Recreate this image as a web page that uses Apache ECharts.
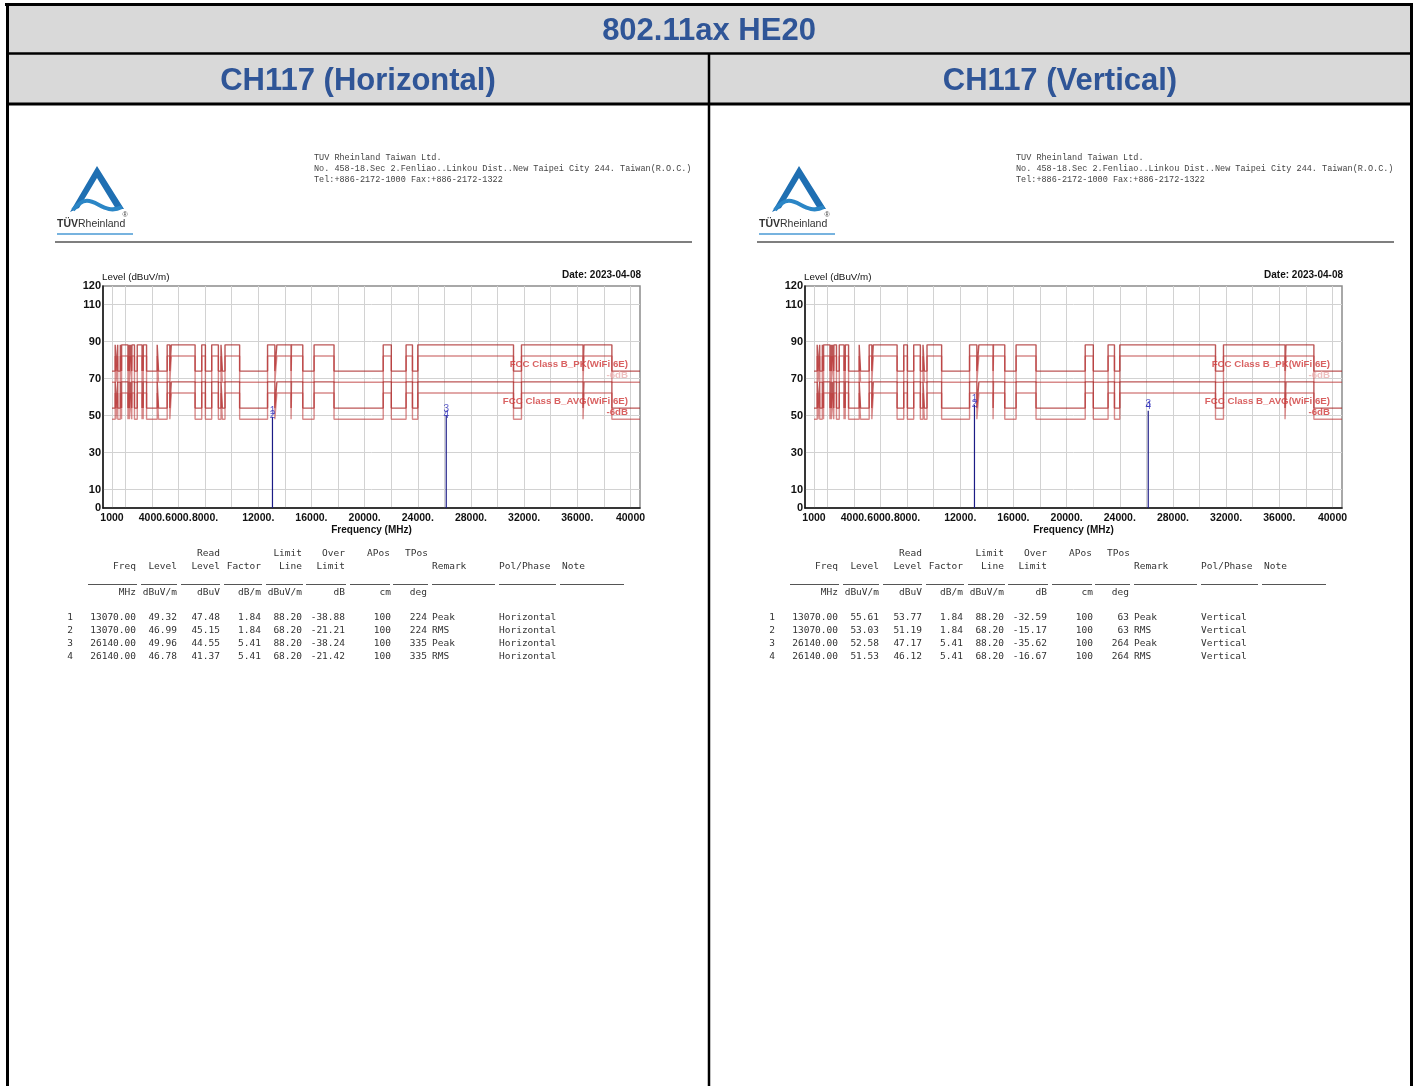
<!DOCTYPE html>
<html lang="en">
<head>
<meta charset="UTF-8">
<title>802.11ax HE20 CH117</title>
<style>
    html, body { margin: 0; padding: 0; background: #fff; }
    #main { width: 1418px; height: 1086px; }
</style>
</head>
<body>
<div id="main"></div>
<script src="https://cdn.jsdelivr.net/npm/echarts@6/dist/echarts.min.js"></script>
<script type="text/javascript">
    // restricted bands (MHz), the limits drop inside them
    var restricted = [
        [960, 1240], [1300, 1427], [1435, 1626.5], [1645.5, 1646.5], [1660, 1710],
        [1718.8, 1722.2], [2200, 2300], [2310, 2390], [2483.5, 2500], [2690, 2900],
        [3260, 3267], [3332, 3339], [3345.8, 3358], [3600, 4400], [4500, 5150],
        [5350, 5460], [7250, 7750], [8025, 8500], [9000, 9200], [9300, 9500],
        [10600, 12700], [13250, 13400], [14470, 14500], [15350, 16200], [17700, 21400],
        [22010, 23120], [23600, 24000], [31200, 31800], [36430, 36500], [38600, 41000]
    ];
    // [in restricted band, outside]
    var pkLimit = [74, 88.2];
    var pkLimit6 = [68, 82.2];
    var avgLimit = [54, 68.2];
    var avgLimit6 = [48, 62.2];
    var limitNames = ['FCC Class B_PK(WiFi 6E)', '-6dB', 'FCC Class B_AVG(WiFi 6E)', '-6dB'];

    var freqStart = 1000;
    var xMin = 323, xMax = 40715;
    var xGridVals = [1000, 2000, 4000, 6000, 8000, 10000, 12000, 14000, 16000, 18000, 20000, 22000,
        24000, 26000, 28000, 30000, 32000, 34000, 36000, 38000, 40000];
    var xLabelVals = [1000, 4000, 6000, 8000, 12000, 16000, 20000, 24000, 28000, 32000, 36000, 40000];
    var yLabelVals = [0, 10, 30, 50, 70, 90, 110, 120];
    var yGridVals = [10, 30, 50, 70, 90, 110];

    // marker table
    var mkNo = ['1', '2', '3', '4'];
    var mkFreq = [13070, 13070, 26140, 26140];
    var factor = [1.84, 1.84, 5.41, 5.41];
    var limitLine = [88.20, 68.20, 88.20, 68.20];
    var aPos = [100, 100, 100, 100];
    var remark = ['Peak', 'RMS', 'Peak', 'RMS'];

    var hLevel = [49.32, 46.99, 49.96, 46.78];
    var hRead = [47.48, 45.15, 44.55, 41.37];
    var hOver = [-38.88, -21.21, -38.24, -21.42];
    var hTPos = [224, 224, 335, 335];

    var vLevel = [55.61, 53.03, 52.58, 51.53];
    var vRead = [53.77, 51.19, 47.17, 46.12];
    var vOver = [-32.59, -15.17, -35.62, -16.67];
    var vTPos = [63, 63, 264, 264];

    var SANS = '"Liberation Sans", Arial, sans-serif';
    var MONO = '"DejaVu Sans Mono", monospace';
    var BLUE = '#2f5597';

    function stepLine(lv) {
        var pts = [[freqStart, lv[0]]];
        restricted.forEach(function (b) {
            if (b[0] > freqStart) { pts.push([b[0], lv[1]], [b[0], lv[0]]); }
            if (b[1] < xMax) { pts.push([b[1], lv[0]], [b[1], lv[1]]); }
        });
        pts.push([xMax, lv[0]]);
        return pts;
    }

    function txt(x, y, s, font, fill, align, valign) {
        return {
            type: 'text', x: x, y: y, silent: true,
            style: {
                text: s, font: font, fill: fill,
                align: align || 'left', textAlign: align || 'left',
                verticalAlign: valign || 'middle', textVerticalAlign: valign || 'middle'
            }
        };
    }
    function hline(x1, x2, y, color, w) {
        return { type: 'line', silent: true, shape: { x1: x1, y1: y, x2: x2, y2: y }, style: { stroke: color, lineWidth: w } };
    }
    function vline(x, y1, y2, color, w) {
        return { type: 'line', silent: true, shape: { x1: x, y1: y1, x2: x, y2: y2 }, style: { stroke: color, lineWidth: w } };
    }

    var grids = [], xAxes = [], yAxes = [], series = [], graphics = [];

    // table frame
    graphics.push({ type: 'rect', silent: true, shape: { x: 8, y: 6, width: 1402, height: 97 }, style: { fill: '#d9d9d9' } });
    graphics.push(hline(5, 1413, 4.5, '#000', 3));
    graphics.push(vline(7.5, 3, 1090, '#000', 3));
    graphics.push(vline(1411.5, 3, 1090, '#000', 3));
    graphics.push(hline(6, 1412, 53.5, '#000', 2.5));
    graphics.push(hline(6, 1412, 104, '#000', 3));
    graphics.push(vline(709, 53, 1090, '#000', 2.5));
    graphics.push(txt(709, 31, '802.11ax HE20', 'bold 31px ' + SANS, BLUE, 'center'));
    graphics.push(txt(358, 81, 'CH117 (Horizontal)', 'bold 31px ' + SANS, BLUE, 'center'));
    graphics.push(txt(1060, 81, 'CH117 (Vertical)', 'bold 31px ' + SANS, BLUE, 'center'));

    function panel(idx, off, level, read, over, tpos, pol) {
        // report header
        graphics.push({
            type: 'polygon', silent: true,
            shape: { points: [[70 + off, 212], [97 + off, 166], [124 + off, 209], [116 + off, 209], [97 + off, 178], [79 + off, 208]] },
            style: { fill: '#1f6fb2' }
        });
        graphics.push({
            type: 'bezierCurve', silent: true,
            shape: { x1: 73 + off, y1: 210, cpx1: 92 + off, cpy1: 186, cpx2: 100 + off, cpy2: 218, x2: 122 + off, y2: 207 },
            style: { stroke: '#2b86c6', lineWidth: 4, fill: null }
        });
        graphics.push({
            type: 'text', x: 57 + off, y: 224, silent: true,
            style: {
                text: '{b|TÜV}{r|Rheinland}', align: 'left', textAlign: 'left',
                verticalAlign: 'middle', textVerticalAlign: 'middle',
                rich: {
                    b: { font: 'bold 10.5px ' + SANS, fill: '#333', color: '#333' },
                    r: { font: '10.5px ' + SANS, fill: '#333', color: '#333' }
                }
            }
        });
        graphics.push(txt(125 + off, 215, '®', '7px ' + SANS, '#444', 'center'));
        graphics.push(hline(57 + off, 133 + off, 234, '#4a9ad4', 1.5));
        var fc = '8.5px "Liberation Mono", monospace';
        graphics.push(txt(314 + off, 158, 'TUV Rheinland Taiwan Ltd.', fc, '#444'));
        graphics.push(txt(314 + off, 169, 'No. 458-18.Sec 2.Fenliao..Linkou Dist..New Taipei City 244. Taiwan(R.O.C.)', fc, '#444'));
        graphics.push(txt(314 + off, 180, 'Tel:+886-2172-1000 Fax:+886-2172-1322', fc, '#444'));
        graphics.push(hline(55 + off, 692 + off, 242, '#555', 1.5));

        graphics.push(txt(102 + off, 277, 'Level (dBuV/m)', '9.8px ' + SANS, '#111'));
        graphics.push(txt(641 + off, 275, 'Date: 2023-04-08', 'bold 10px ' + SANS, '#111', 'right'));

        // marker table
        var f9 = '9.5px ' + MONO, tc = '#333';
        var rx = [136, 177, 220, 261, 302, 345, 391, 427];
        graphics.push(txt(220 + off, 554, 'Read', f9, tc, 'right'));
        graphics.push(txt(302 + off, 554, 'Limit', f9, tc, 'right'));
        graphics.push(txt(345 + off, 554, 'Over', f9, tc, 'right'));
        graphics.push(txt(390 + off, 554, 'APos', f9, tc, 'right'));
        graphics.push(txt(428 + off, 554, 'TPos', f9, tc, 'right'));
        ['Freq', 'Level', 'Level', 'Factor', 'Line', 'Limit'].forEach(function (h, k) {
            graphics.push(txt(rx[k] + off, 567, h, f9, tc, 'right'));
        });
        graphics.push(txt(432 + off, 567, 'Remark', f9, tc));
        graphics.push(txt(499 + off, 567, 'Pol/Phase', f9, tc));
        graphics.push(txt(562 + off, 567, 'Note', f9, tc));
        [[88, 137], [141, 177], [181, 220], [224, 262], [266, 303], [306, 346], [350, 390],
            [393, 428], [432, 495], [499, 556], [560, 624]].forEach(function (s) {
            graphics.push(hline(s[0] + off, s[1] + off, 584.5, '#555', 1));
        });
        ['MHz', 'dBuV/m', 'dBuV', 'dB/m', 'dBuV/m', 'dB', 'cm', 'deg'].forEach(function (u, k) {
            graphics.push(txt(rx[k] + off, 593, u, f9, tc, 'right'));
        });
        for (var i = 0; i < mkNo.length; i++) {
            var y = 618 + i * 13;
            var cells = [mkFreq[i].toFixed(2), level[i].toFixed(2), read[i].toFixed(2), factor[i].toFixed(2),
                limitLine[i].toFixed(2), over[i].toFixed(2), String(aPos[i]), String(tpos[i])];
            graphics.push(txt(70 + off, y, mkNo[i], f9, tc, 'center'));
            cells.forEach(function (c, k) { graphics.push(txt(rx[k] + off, y, c, f9, tc, 'right')); });
            graphics.push(txt(432 + off, y, remark[i], f9, tc));
            graphics.push(txt(499 + off, y, pol, f9, tc));
        }

        // chart
        grids.push({
            left: 103 + off, top: 286, width: 537, height: 222,
            show: true, borderColor: '#8c8c8c', borderWidth: 1.5, backgroundColor: '#fff'
        });
        xAxes.push({
            gridIndex: idx, type: 'value', min: xMin, max: xMax,
            axisLine: { show: true, onZero: false, lineStyle: { color: '#111', width: 1.5 } },
            axisTick: { show: false, customValues: xGridVals },
            splitLine: { show: true, lineStyle: { color: '#d2d2d2', width: 1 } },
            axisLabel: {
                customValues: xLabelVals, margin: 5, color: '#111',
                fontFamily: SANS, fontWeight: 'bold', fontSize: 10.5,
                formatter: function (v) { return (v === 1000 || v === 40000) ? String(v) : v + '.'; }
            },
            name: 'Frequency (MHz)', nameLocation: 'middle', nameGap: 16,
            nameTextStyle: { color: '#111', fontFamily: SANS, fontWeight: 'bold', fontSize: 10 }
        });
        yAxes.push({
            gridIndex: idx, type: 'value', min: 0, max: 120,
            axisLine: { show: true, onZero: false, lineStyle: { color: '#111', width: 1.5 } },
            axisTick: { show: false, customValues: yGridVals },
            splitLine: { show: true, lineStyle: { color: '#d2d2d2', width: 1 } },
            axisLabel: {
                customValues: yLabelVals, margin: 2, color: '#111',
                fontFamily: SANS, fontWeight: 'bold', fontSize: 11
            }
        });

        var lims = [pkLimit, pkLimit6, avgLimit, avgLimit6];
        var limColors = ['rgba(165,30,30,0.75)', 'rgba(190,60,60,0.6)', 'rgba(165,30,30,0.75)', 'rgba(190,60,60,0.6)'];
        lims.forEach(function (lv, k) {
            series.push({
                type: 'line', xAxisIndex: idx, yAxisIndex: idx, data: stepLine(lv),
                showSymbol: false, silent: true, z: 3,
                lineStyle: { color: limColors[k], width: 1.4 }
            });
        });
        var labColors = ['#d03a3a', '#eab0b0', '#d03a3a', '#d03a3a'];
        series.push({
            type: 'scatter', xAxisIndex: idx, yAxisIndex: idx, symbolSize: 0, silent: true, z: 4,
            data: lims.map(function (lv, k) {
                return { name: limitNames[k], value: [xMax, lv[0]], label: { color: labColors[k] } };
            }),
            label: {
                show: true, position: 'left', distance: 12, offset: [0, -7], formatter: '{b}',
                fontFamily: SANS, fontWeight: 'bold', fontSize: 9.7
            }
        });

        // markers
        var tops = {};
        mkFreq.forEach(function (f, k) { tops[f] = Math.max(tops[f] || 0, level[k]); });
        Object.keys(tops).forEach(function (f) {
            series.push({
                type: 'line', xAxisIndex: idx, yAxisIndex: idx, showSymbol: false, silent: true, z: 5,
                data: [[+f, 0], [+f, tops[f]]],
                lineStyle: { color: '#1c1c86', width: 1.2 }
            });
        });
        series.push({
            type: 'scatter', xAxisIndex: idx, yAxisIndex: idx, symbolSize: 0, silent: true, z: 6,
            data: mkFreq.map(function (f, k) { return { name: mkNo[k], value: [f, level[k]] }; }),
            label: {
                show: true, position: 'top', distance: 1, formatter: '{b}',
                color: '#2a2ab8', fontFamily: SANS, fontSize: 10
            }
        });
    }

    panel(0, 0, hLevel, hRead, hOver, hTPos, 'Horizontal');
    panel(1, 702, vLevel, vRead, vOver, vTPos, 'Vertical');

    var myChart = echarts.init(document.getElementById('main'));
    myChart.setOption({
        animation: false,
        backgroundColor: '#fff',
        grid: grids,
        xAxis: xAxes,
        yAxis: yAxes,
        series: series,
        graphic: { elements: graphics }
    });
</script>
</body>
</html>
